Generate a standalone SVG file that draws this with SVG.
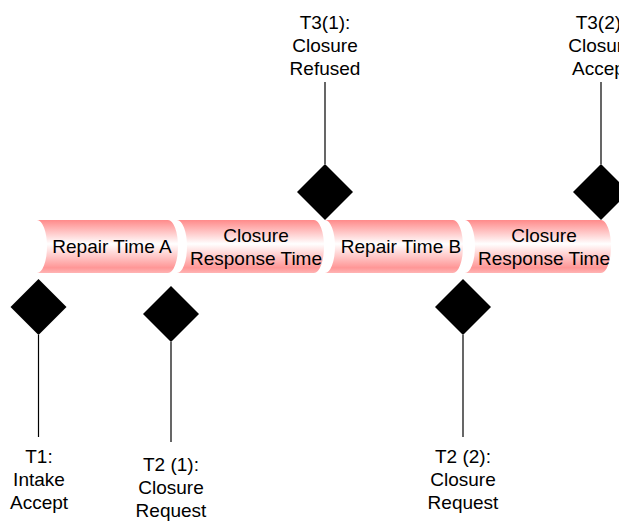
<svg xmlns="http://www.w3.org/2000/svg" width="619" height="522" viewBox="0 0 619 522">
  <style>
    .seg { fill: url(#pipeFill); }
    .lbl { font-family: "Liberation Sans", Arial, sans-serif; font-size: 19px; fill: #000; text-anchor: middle; }
    .stem { stroke: #000; stroke-width: 1.2; fill: none; }
    .milestone { fill: #000; }
  </style>
  <defs>
    <!-- vertical shading of the pipe sections -->
    <linearGradient id="pipeFill" x1="0" y1="0" x2="0" y2="1">
      <stop offset="0" stop-color="#ff8a8a"/>
      <stop offset="0.45" stop-color="#ffffff"/>
      <stop offset="0.9" stop-color="#ff9696"/>
      <stop offset="1" stop-color="#ffb4b4"/>
    </linearGradient>
    <!-- milestone marker: diamond centred on the origin -->
    <path id="diamond" d="M0,-28 L28,0 L0,28 L-28,0 Z"/>
  </defs>

  <!-- timeline sections: concave left end, rounded right end -->
  <g id="seg-repair-a">
    <path class="seg" d="M37,220 L168,220 A10,26.5 0 0 1 168,273 L37,273 A10,26.5 0 0 0 37,220 Z"/>
    <text class="lbl" x="112" y="253">Repair Time A</text>
  </g>
  <g id="seg-closure-1">
    <path class="seg" d="M177,220 L314,220 A10,26.5 0 0 1 314,273 L177,273 A10,26.5 0 0 0 177,220 Z"/>
    <text class="lbl" x="256" y="242">Closure</text>
    <text class="lbl" x="256" y="265">Response Time</text>
  </g>
  <g id="seg-repair-b">
    <path class="seg" d="M325,220 L453,220 A10,26.5 0 0 1 453,273 L325,273 A10,26.5 0 0 0 325,220 Z"/>
    <text class="lbl" x="401" y="253">Repair Time B</text>
  </g>
  <g id="seg-closure-2">
    <path class="seg" d="M465,220 L601,220 A10,26.5 0 0 1 601,273 L465,273 A10,26.5 0 0 0 465,220 Z"/>
    <text class="lbl" x="544" y="242">Closure</text>
    <text class="lbl" x="544" y="265">Response Time</text>
  </g>

  <!-- stems joining each milestone to its caption -->
  <g id="connectors">
    <line class="stem" x1="38.5" y1="335" x2="38.5" y2="437"/>
    <line class="stem" x1="171" y1="342" x2="171" y2="442"/>
    <line class="stem" x1="325" y1="82" x2="325" y2="164"/>
    <line class="stem" x1="463" y1="335" x2="463" y2="437"/>
    <line class="stem" x1="601" y1="82" x2="601" y2="164"/>
  </g>

  <!-- milestones -->
  <g id="t1-intake-accept">
    <use href="#diamond" class="milestone" x="38.5" y="307"/>
    <text class="lbl" x="39" y="463">T1:</text>
    <text class="lbl" x="39" y="486">Intake</text>
    <text class="lbl" x="39" y="509">Accept</text>
  </g>
  <g id="t2-1-closure-request">
    <use href="#diamond" class="milestone" x="171" y="314"/>
    <text class="lbl" x="171" y="471">T2 (1):</text>
    <text class="lbl" x="171" y="494">Closure</text>
    <text class="lbl" x="171" y="517">Request</text>
  </g>
  <g id="t3-1-closure-refused">
    <use href="#diamond" class="milestone" x="325" y="192"/>
    <text class="lbl" x="325" y="29">T3(1):</text>
    <text class="lbl" x="325" y="52">Closure</text>
    <text class="lbl" x="325" y="75">Refused</text>
  </g>
  <g id="t2-2-closure-request">
    <use href="#diamond" class="milestone" x="463" y="307"/>
    <text class="lbl" x="463" y="463">T2 (2):</text>
    <text class="lbl" x="463" y="486">Closure</text>
    <text class="lbl" x="463" y="509">Request</text>
  </g>
  <g id="t3-2-closure-accept">
    <use href="#diamond" class="milestone" x="601" y="192"/>
    <text class="lbl" x="601" y="29">T3(2):</text>
    <text class="lbl" x="601" y="52">Closure</text>
    <text class="lbl" x="601" y="75">Accept</text>
  </g>
</svg>
